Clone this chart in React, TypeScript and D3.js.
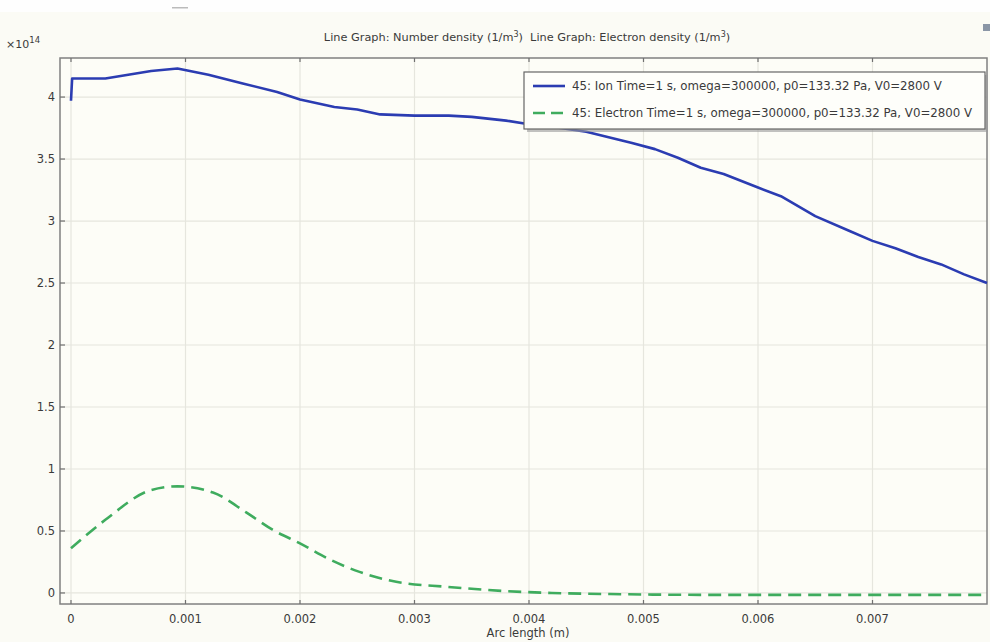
import React from "react";
import * as d3 from "d3";

const W = 990;
const H = 642;

const xTicks = [0, 0.001, 0.002, 0.003, 0.004, 0.005, 0.006, 0.007];
const xTickLabels = ["0", "0.001", "0.002", "0.003", "0.004", "0.005", "0.006", "0.007"];
const yTicks = [0, 0.5, 1, 1.5, 2, 2.5, 3, 3.5, 4];
const yTickLabels = ["0", "0.5", "1", "1.5", "2", "2.5", "3", "3.5", "4"];

const ionX = [0, 0.00001, 0.0003, 0.0005, 0.0007, 0.00093, 0.0012, 0.0015, 0.0018, 0.002, 0.0023, 0.0025, 0.0027, 0.003, 0.0033, 0.0035, 0.0038, 0.004, 0.0042, 0.0045, 0.0049, 0.0051, 0.0053, 0.0055, 0.0057, 0.006, 0.0062, 0.0065, 0.0068, 0.007, 0.0072, 0.0074, 0.0076, 0.0078, 0.008];
const ionY = [3.97, 4.15, 4.15, 4.18, 4.21, 4.23, 4.18, 4.11, 4.04, 3.98, 3.92, 3.90, 3.86, 3.85, 3.85, 3.84, 3.81, 3.78, 3.76, 3.72, 3.63, 3.58, 3.51, 3.43, 3.38, 3.27, 3.20, 3.04, 2.92, 2.84, 2.78, 2.71, 2.65, 2.57, 2.50];

const eleX = [0, 0.0003, 0.0007, 0.00093, 0.00124, 0.00153, 0.00176, 0.002, 0.00226, 0.00252, 0.00284, 0.00328, 0.0038, 0.0042, 0.0048, 0.0055, 0.0062, 0.007, 0.008];
const eleY = [0.36, 0.59, 0.83, 0.86, 0.81, 0.65, 0.51, 0.40, 0.27, 0.17, 0.09, 0.05, 0.015, 0.0, -0.01, -0.015, -0.015, -0.015, -0.015];

const legendLabels = [
  "45: Ion Time=1 s, omega=300000, p0=133.32 Pa, V0=2800 V",
  "45: Electron Time=1 s, omega=300000, p0=133.32 Pa, V0=2800 V",
];

const titleText = "Line Graph: Number density (1/m";
const titleText2 = ")\u00a0\u00a0Line Graph: Electron density (1/m";

export default function App() {
  const left = 60, right = 987, top = 58, bottom = 604;
  const x = d3.scaleLinear().domain([-0.000096, 0.0080]).range([left, right]);
  const y = d3.scaleLinear().domain([-0.089, 4.315]).range([bottom, top]);

  const ionPath = d3.line<[number, number]>().x((d) => x(d[0])).y((d) => y(d[1]))(
    ionX.map((v, i) => [v, ionY[i]] as [number, number])
  );
  const elePath = d3.line<[number, number]>().curve(d3.curveMonotoneX).x((d) => x(d[0])).y((d) => y(d[1]))(
    eleX.map((v, i) => [v, eleY[i]] as [number, number])
  );

  const font = "'DejaVu Sans', sans-serif";
  const textColor = "#3a3a3a";
  const blue = "#2b3cb2";
  const green = "#3fac5e";

  return (
    <svg width={W} height={H} style={{ position: "absolute", left: 0, top: 0 }} fontFamily={font}>
      <rect x={0} y={0} width={W} height={H} fill="#fbfbf5" />
      <rect x={0} y={0} width={W} height={12} fill="#fefefe" />
      <rect x={172} y={7} width={16} height={1.5} fill="#bbb" />
      <rect x={left} y={top} width={right - left} height={bottom - top} fill="#fdfdf7" />
      {xTicks.map((t) => (
        <line key={"gx" + t} x1={x(t)} x2={x(t)} y1={top} y2={bottom} stroke="#e6e6de" strokeWidth={1.2} />
      ))}
      {yTicks.map((t) => (
        <line key={"gy" + t} x1={left} x2={right} y1={y(t)} y2={y(t)} stroke="#e6e6de" strokeWidth={1.2} />
      ))}
      <rect x={left} y={top} width={right - left} height={bottom - top} fill="none" stroke="#808080" strokeWidth={1.5} />
      {xTicks.map((t) => (
        <g key={"tx" + t}>
          <line x1={x(t)} x2={x(t)} y1={bottom} y2={bottom - 4} stroke="#707070" strokeWidth={1.2} />
          <line x1={x(t)} x2={x(t)} y1={top} y2={top + 4} stroke="#707070" strokeWidth={1.2} />
        </g>
      ))}
      {yTicks.map((t) => (
        <line key={"ty" + t} x1={left} x2={left + 5} y1={y(t)} y2={y(t)} stroke="#707070" strokeWidth={1.2} />
      ))}
      {xTicks.map((t, i) => (
        <text key={"lx" + t} x={x(t)} y={623} textAnchor="middle" fontSize={11.5} fill={textColor}>
          {xTickLabels[i]}
        </text>
      ))}
      {yTicks.map((t, i) => (
        <text key={"ly" + t} x={55} y={y(t) + 4} textAnchor="end" fontSize={11.5} fill={textColor}>
          {yTickLabels[i]}
        </text>
      ))}
      <text x={6} y={48} fontSize={11} fill={textColor}>
        ×10<tspan dy={-5} fontSize={8.5}>14</tspan>
      </text>
      <text x={528} y={637} textAnchor="middle" fontSize={11.5} fill={textColor}>Arc length (m)</text>
      <text x={527} y={41} textAnchor="middle" fontSize={11.3} fill={textColor}>
        {titleText}<tspan dy={-4} fontSize={8}>3</tspan><tspan dy={4}>{titleText2}</tspan><tspan dy={-4} fontSize={8}>3</tspan><tspan dy={4}>)</tspan>
      </text>
      <rect x={983} y={24} width={7} height={7} fill="#8a96a6" />
      <path d={elePath ?? ""} fill="none" stroke={green} strokeWidth={2.6} strokeDasharray="13,7" />
      <path d={ionPath ?? ""} fill="none" stroke={blue} strokeWidth={2.6} strokeLinejoin="round" />
      <rect x={527} y={75} width={461} height={57} fill="#999" opacity={0.6} />
      <rect x={524} y={72} width={461} height={57} fill="#fefefa" stroke="#666" strokeWidth={1.2} />
      <line x1={533} x2={565} y1={86} y2={86} stroke={blue} strokeWidth={2.6} />
      <line x1={533} x2={565} y1={113} y2={113} stroke={green} strokeWidth={2.6} strokeDasharray="12,6" />
      {legendLabels.map((l, i) => (
        <text key={l} x={572} y={90 + i * 27} fontSize={11.8} fill={textColor}>{l}</text>
      ))}
    </svg>
  );
}
